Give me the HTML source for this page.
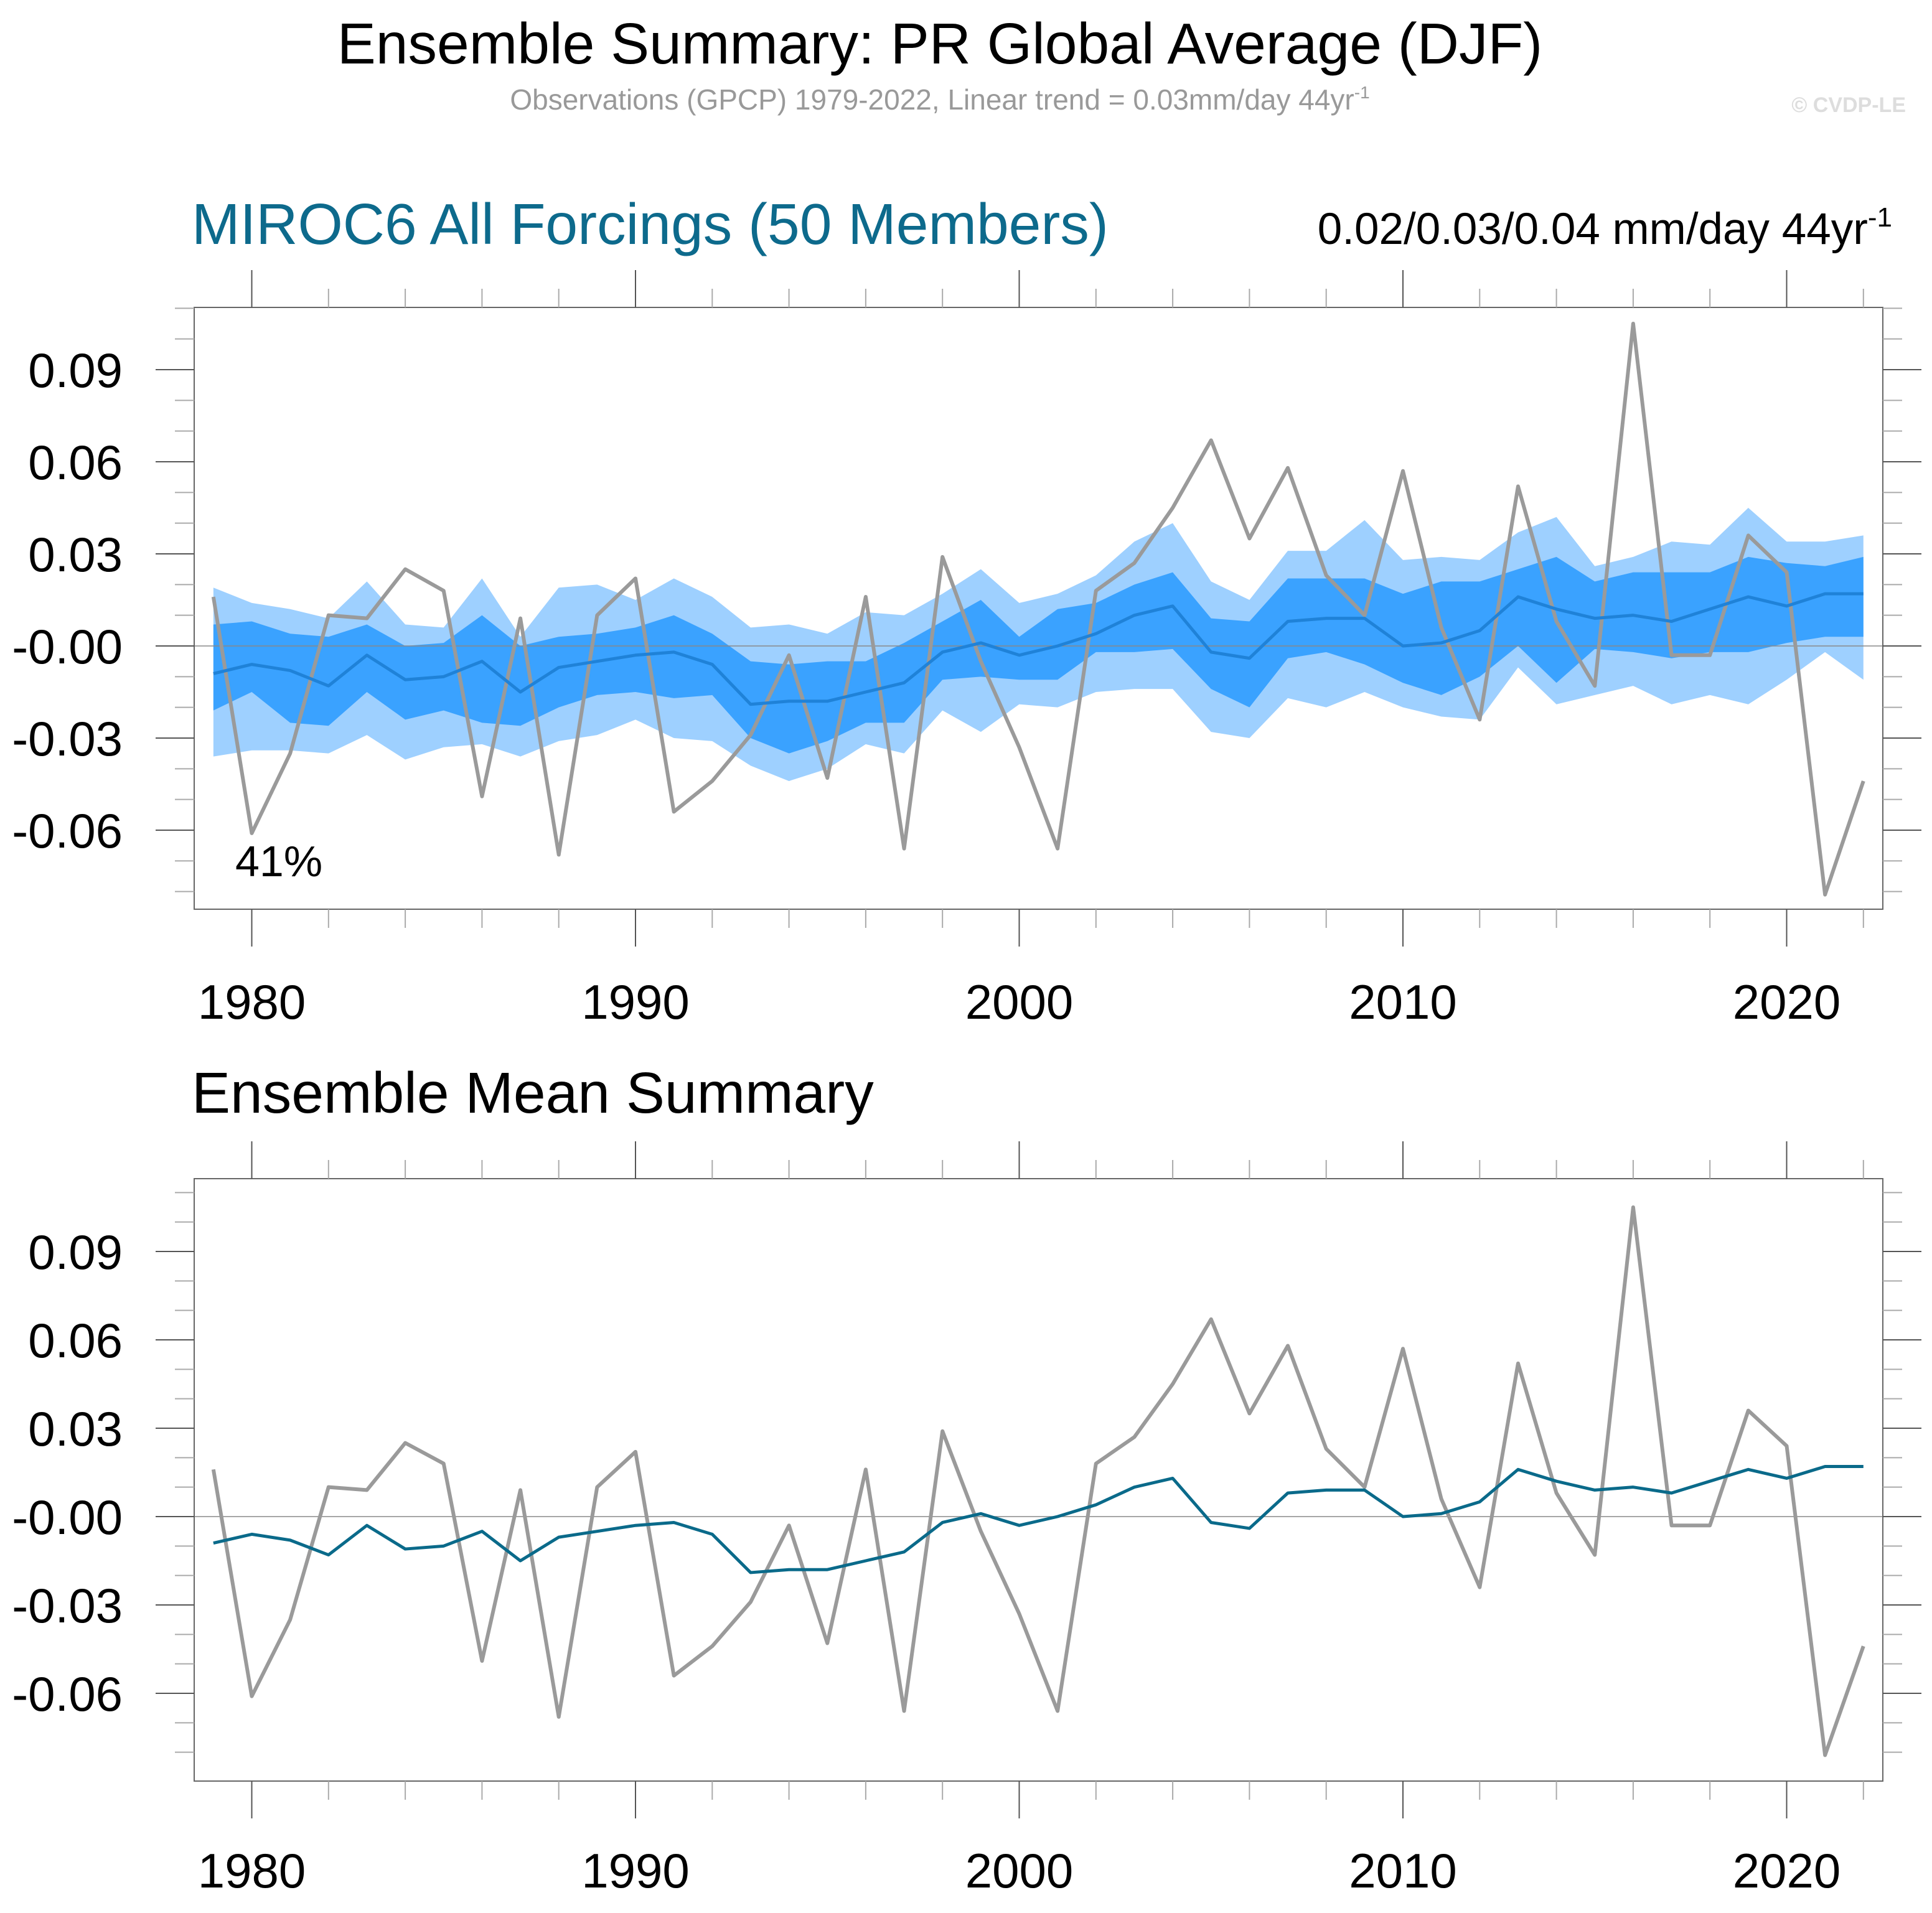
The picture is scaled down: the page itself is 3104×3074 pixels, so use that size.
<!DOCTYPE html>
<html><head><meta charset="utf-8"><style>
html,body{margin:0;padding:0;background:#fff}
svg{display:block;font-family:"Liberation Sans",Arial,sans-serif}
</style></head><body>
<svg id="chart" width="3104" height="3074" viewBox="0 0 3104 3074" xmlns="http://www.w3.org/2000/svg">
<text x="1510" y="102" font-size="93" text-anchor="middle" fill="#000">Ensemble Summary: PR Global Average (DJF)</text>
<text x="1510" y="176" font-size="46" text-anchor="middle" fill="#999">Observations (GPCP) 1979-2022, Linear trend = 0.03mm/day 44yr<tspan font-size="28" dy="-18">-1</tspan></text>
<text x="3062" y="180" font-size="34" font-weight="bold" text-anchor="end" fill="#ddd">© CVDP-LE</text>
<text x="308" y="392" font-size="93" fill="#0d6a8c">MIROC6 All Forcings (50 Members)</text>
<text x="3040" y="392" font-size="71" text-anchor="end" fill="#000">0.02/0.03/0.04 mm/day 44yr<tspan font-size="44" dy="-28">-1</tspan></text>
<text x="308" y="1788" font-size="93" fill="#000">Ensemble Mean Summary</text>
<g id="top"></g>
<g id="bot"></g>
</svg>
<script>
const years=[];for(let y=1979;y<=2022;y++)years.push(y);
const obs=[0.016,-0.061,-0.035,0.010,0.009,0.025,0.018,-0.049,0.009,-0.068,0.010,0.022,-0.054,-0.044,-0.029,-0.003,-0.043,0.016,-0.066,0.029,-0.005,-0.033,-0.066,0.018,0.027,0.045,0.067,0.035,0.058,0.023,0.010,0.057,0.006,-0.024,0.052,0.008,-0.013,0.105,-0.003,-0.003,0.036,0.024,-0.081,-0.044];
const ensMean=[-0.009,-0.006,-0.008,-0.013,-0.003,-0.011,-0.010,-0.005,-0.015,-0.007,-0.005,-0.003,-0.002,-0.006,-0.019,-0.018,-0.018,-0.015,-0.012,-0.002,0.001,-0.003,0.000,0.004,0.010,0.013,-0.002,-0.004,0.008,0.009,0.009,0.000,0.001,0.005,0.016,0.012,0.009,0.010,0.008,0.012,0.016,0.013,0.017,0.017];
const lightHi=[0.019,0.014,0.012,0.009,0.021,0.007,0.006,0.022,0.003,0.019,0.020,0.015,0.022,0.016,0.006,0.007,0.004,0.011,0.010,0.017,0.025,0.014,0.017,0.023,0.034,0.040,0.021,0.015,0.031,0.031,0.041,0.028,0.029,0.028,0.037,0.042,0.026,0.029,0.034,0.033,0.045,0.034,0.034,0.036];
const lightLo=[-0.036,-0.034,-0.034,-0.035,-0.029,-0.037,-0.033,-0.032,-0.036,-0.031,-0.029,-0.024,-0.030,-0.031,-0.039,-0.044,-0.040,-0.032,-0.035,-0.021,-0.028,-0.019,-0.020,-0.015,-0.014,-0.014,-0.028,-0.030,-0.017,-0.020,-0.015,-0.020,-0.023,-0.024,-0.007,-0.019,-0.016,-0.013,-0.019,-0.016,-0.019,-0.011,-0.002,-0.011];
const darkHi=[0.007,0.008,0.004,0.003,0.007,0.000,0.001,0.010,0.000,0.003,0.004,0.006,0.010,0.004,-0.005,-0.006,-0.005,-0.005,0.001,0.008,0.015,0.003,0.012,0.014,0.020,0.024,0.009,0.008,0.022,0.022,0.022,0.017,0.021,0.021,0.025,0.029,0.021,0.024,0.024,0.024,0.029,0.027,0.026,0.029];
const darkLo=[-0.021,-0.015,-0.025,-0.026,-0.015,-0.024,-0.021,-0.025,-0.026,-0.020,-0.016,-0.015,-0.017,-0.016,-0.030,-0.035,-0.031,-0.025,-0.025,-0.011,-0.010,-0.011,-0.011,-0.002,-0.002,-0.001,-0.014,-0.020,-0.004,-0.002,-0.006,-0.012,-0.016,-0.010,0.000,-0.012,-0.001,-0.002,-0.004,-0.002,-0.002,0.001,0.003,0.003];
const yTickVals=[0.09,0.06,0.03,0,-0.03,-0.06];
const yTickLabels=["0.09","0.06","0.03","-0.00","-0.03","-0.06"];
const xTickLabels=["1980","1990","2000","2010","2020"];
const NS="http://www.w3.org/2000/svg";
function mk(p,t,a){const e=document.createElementNS(NS,t);for(const k in a)e.setAttribute(k,a[k]);p.appendChild(e);return e;}
const xL=312,xR=3025;
const xs=y=>404.5+(y-1980)*61.65;
function panel(g,top,bot,zeroY,per003,bands,meanColor,labelBase){
  const ys=v=>zeroY-v/0.03*per003;
  const vmax=(zeroY-top)/per003*0.03, vmin=-(bot-zeroY)/per003*0.03;
  if(bands){
    const poly=(hi,lo,col,name)=>{let pts=hi.map((v,i)=>xs(years[i])+','+ys(v));for(let i=lo.length-1;i>=0;i--)pts.push(xs(years[i])+','+ys(lo[i]));
      const e=mk(g,'polygon',{points:pts.join(' '),fill:col});
      
      };
    poly(lightHi,lightLo,'#9ed0ff','outer-spread-band');
    poly(darkHi,darkLo,'#3aa2ff','inner-spread-band');
  }
  const z=mk(g,'line',{x1:xL,x2:xR,y1:zeroY,y2:zeroY,stroke:'#888','stroke-width':1.5});
  
  
  const o=mk(g,'polyline',{points:obs.map((v,i)=>xs(years[i])+','+ys(v)).join(' '),fill:'none',stroke:'#9a9a9a','stroke-width':6,'stroke-linejoin':'round'});
  
  
  const m=mk(g,'polyline',{points:ensMean.map((v,i)=>xs(years[i])+','+ys(v)).join(' '),fill:'none',stroke:meanColor,'stroke-width':5,'stroke-linejoin':'round'});
  
  
  const b=mk(g,'rect',{x:xL,y:top,width:xR-xL,height:bot-top,fill:'none',stroke:'#666','stroke-width':2});
  
  
  for(let k=Math.ceil(vmin*100-1e-6);k<=Math.floor(vmax*100+1e-6);k++){
    const y=ys(k/100),major=(k%3===0),len=major?62:31;
    mk(g,'line',{x1:xL-len,x2:xL,y1:y,y2:y,stroke:major?'#555':'#aaa','stroke-width':2});
    mk(g,'line',{x1:xR,x2:xR+len,y1:y,y2:y,stroke:major?'#555':'#aaa','stroke-width':2});
  }
  yTickVals.forEach((v,i)=>{const t=mk(g,'text',{x:197,y:ys(v)+28,'font-size':78,'text-anchor':'end',fill:'#000'});t.textContent=yTickLabels[i];
    
    });
  for(let yr=1980;yr<=2022;yr+=2){const x=xs(yr),major=yr%10===0,len=major?60:30;
    mk(g,'line',{x1:x,x2:x,y1:top-len,y2:top,stroke:major?'#555':'#aaa','stroke-width':2});
    mk(g,'line',{x1:x,x2:x,y1:bot,y2:bot+len,stroke:major?'#555':'#aaa','stroke-width':2});}
  xTickLabels.forEach(l=>{const t=mk(g,'text',{x:xs(+l),y:labelBase,'font-size':78,'text-anchor':'middle',fill:'#000'});t.textContent=l;
    
    });
}
panel(document.getElementById('top'),494,1461,1038,148,true,'#1f82d8',1637);
panel(document.getElementById('bot'),1894,2862,2437,142,false,'#0a6a8a',3033);
const pct=mk(document.getElementById('top'),'text',{x:378,y:1408,'font-size':70,fill:'#000'});
pct.textContent='41%';


</script>
</body></html>
